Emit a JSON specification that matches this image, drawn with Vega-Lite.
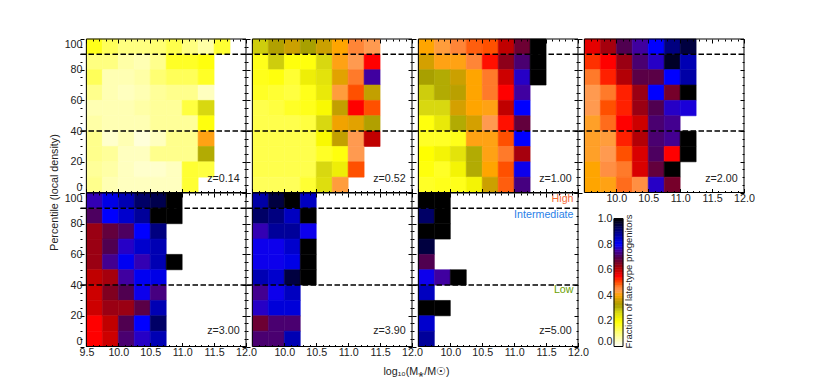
{"$schema":"https://vega.github.io/schema/vega-lite/v6.json","padding":{"left":48,"top":38,"right":0,"bottom":0},"columns":4,"spacing":0,"bounds":"flush","resolve":{"scale":{"color":"shared","stroke":"shared"}},
"config":{"view":{"stroke":null},"font":"Liberation Sans","axis":{"grid":false,"labelColor":"#222","titleColor":"#222","labelFont":"Liberation Sans","titleFont":"Liberation Sans","labelFontSize":10.7,"titleFontSize":10.7,"titleFontWeight":"normal","labelPadding":5},"axisX":{"labelFlush":false},"axisY":{"labelFlush":true,"labelPadding":2}},
"datasets":{"frame":[{"m":9.5,"n":12,"d":0,"e":100}],"dash":[{"d":40},{"d":90}],
"cells":[
{"z":0.14,"m":9.5,"n":9.75,"d":90,"e":100,"f":0.18},{"z":0.14,"m":9.75,"n":10,"d":90,"e":100,"f":0.13},{"z":0.14,"m":10,"n":10.25,"d":90,"e":100,"f":0.1},{"z":0.14,"m":10.25,"n":10.5,"d":90,"e":100,"f":0.1},{"z":0.14,"m":10.5,"n":10.75,"d":90,"e":100,"f":0.11},{"z":0.14,"m":10.75,"n":11,"d":90,"e":100,"f":0.14},{"z":0.14,"m":11,"n":11.25,"d":90,"e":100,"f":0.1},{"z":0.14,"m":11.25,"n":11.5,"d":90,"e":100,"f":0.07},{"z":0.14,"m":11.5,"n":11.75,"d":90,"e":100,"f":0.16},
{"z":0.14,"m":9.5,"n":9.75,"d":80,"e":90,"f":0.1},{"z":0.14,"m":9.75,"n":10,"d":80,"e":90,"f":0.1},{"z":0.14,"m":10,"n":10.25,"d":80,"e":90,"f":0.07},{"z":0.14,"m":10.25,"n":10.5,"d":80,"e":90,"f":0.06},{"z":0.14,"m":10.5,"n":10.75,"d":80,"e":90,"f":0.09},{"z":0.14,"m":10.75,"n":11,"d":80,"e":90,"f":0.17},{"z":0.14,"m":11,"n":11.25,"d":80,"e":90,"f":0.17},{"z":0.14,"m":11.25,"n":11.5,"d":80,"e":90,"f":0.19},
{"z":0.14,"m":9.5,"n":9.75,"d":70,"e":80,"f":0.13},{"z":0.14,"m":9.75,"n":10,"d":70,"e":80,"f":0.06},{"z":0.14,"m":10,"n":10.25,"d":70,"e":80,"f":0.06},{"z":0.14,"m":10.25,"n":10.5,"d":70,"e":80,"f":0.07},{"z":0.14,"m":10.5,"n":10.75,"d":70,"e":80,"f":0.11},{"z":0.14,"m":10.75,"n":11,"d":70,"e":80,"f":0.13},{"z":0.14,"m":11,"n":11.25,"d":70,"e":80,"f":0.13},{"z":0.14,"m":11.25,"n":11.5,"d":70,"e":80,"f":0.17},
{"z":0.14,"m":9.5,"n":9.75,"d":60,"e":70,"f":0.09},{"z":0.14,"m":9.75,"n":10,"d":60,"e":70,"f":0.06},{"z":0.14,"m":10,"n":10.25,"d":60,"e":70,"f":0.05},{"z":0.14,"m":10.25,"n":10.5,"d":60,"e":70,"f":0.06},{"z":0.14,"m":10.5,"n":10.75,"d":60,"e":70,"f":0.08},{"z":0.14,"m":10.75,"n":11,"d":60,"e":70,"f":0.09},{"z":0.14,"m":11,"n":11.25,"d":60,"e":70,"f":0.09},{"z":0.14,"m":11.25,"n":11.5,"d":60,"e":70,"f":0.05},
{"z":0.14,"m":9.5,"n":9.75,"d":50,"e":60,"f":0.06},{"z":0.14,"m":9.75,"n":10,"d":50,"e":60,"f":0.06},{"z":0.14,"m":10,"n":10.25,"d":50,"e":60,"f":0.06},{"z":0.14,"m":10.25,"n":10.5,"d":50,"e":60,"f":0.07},{"z":0.14,"m":10.5,"n":10.75,"d":50,"e":60,"f":0.08},{"z":0.14,"m":10.75,"n":11,"d":50,"e":60,"f":0.08},{"z":0.14,"m":11,"n":11.25,"d":50,"e":60,"f":0.15},{"z":0.14,"m":11.25,"n":11.5,"d":50,"e":60,"f":0.27},
{"z":0.14,"m":9.5,"n":9.75,"d":40,"e":50,"f":0.07},{"z":0.14,"m":9.75,"n":10,"d":40,"e":50,"f":0.06},{"z":0.14,"m":10,"n":10.25,"d":40,"e":50,"f":0.06},{"z":0.14,"m":10.25,"n":10.5,"d":40,"e":50,"f":0.06},{"z":0.14,"m":10.5,"n":10.75,"d":40,"e":50,"f":0.08},{"z":0.14,"m":10.75,"n":11,"d":40,"e":50,"f":0.08},{"z":0.14,"m":11,"n":11.25,"d":40,"e":50,"f":0.08},{"z":0.14,"m":11.25,"n":11.5,"d":40,"e":50,"f":0.19},
{"z":0.14,"m":9.5,"n":9.75,"d":30,"e":40,"f":0.09},{"z":0.14,"m":9.75,"n":10,"d":30,"e":40,"f":0.04},{"z":0.14,"m":10,"n":10.25,"d":30,"e":40,"f":0.06},{"z":0.14,"m":10.25,"n":10.5,"d":30,"e":40,"f":0.03},{"z":0.14,"m":10.5,"n":10.75,"d":30,"e":40,"f":0.05},{"z":0.14,"m":10.75,"n":11,"d":30,"e":40,"f":0.09},{"z":0.14,"m":11,"n":11.25,"d":30,"e":40,"f":0.09},{"z":0.14,"m":11.25,"n":11.5,"d":30,"e":40,"f":0.41},
{"z":0.14,"m":9.5,"n":9.75,"d":20,"e":30,"f":0.09},{"z":0.14,"m":9.75,"n":10,"d":20,"e":30,"f":0.08},{"z":0.14,"m":10,"n":10.25,"d":20,"e":30,"f":0.05},{"z":0.14,"m":10.25,"n":10.5,"d":20,"e":30,"f":0.05},{"z":0.14,"m":10.5,"n":10.75,"d":20,"e":30,"f":0.09},{"z":0.14,"m":10.75,"n":11,"d":20,"e":30,"f":0.09},{"z":0.14,"m":11,"n":11.25,"d":20,"e":30,"f":0.09},{"z":0.14,"m":11.25,"n":11.5,"d":20,"e":30,"f":0.31},
{"z":0.14,"m":9.5,"n":9.75,"d":10,"e":20,"f":0.08},{"z":0.14,"m":9.75,"n":10,"d":10,"e":20,"f":0.07},{"z":0.14,"m":10,"n":10.25,"d":10,"e":20,"f":0.05},{"z":0.14,"m":10.25,"n":10.5,"d":10,"e":20,"f":0.04},{"z":0.14,"m":10.5,"n":10.75,"d":10,"e":20,"f":0.04},{"z":0.14,"m":10.75,"n":11,"d":10,"e":20,"f":0.05},{"z":0.14,"m":11,"n":11.25,"d":10,"e":20,"f":0.16},{"z":0.14,"m":11.25,"n":11.5,"d":10,"e":20,"f":0.15},
{"z":0.14,"m":9.5,"n":9.75,"d":0,"e":10,"f":0.09},{"z":0.14,"m":9.75,"n":10,"d":0,"e":10,"f":0.06},{"z":0.14,"m":10,"n":10.25,"d":0,"e":10,"f":0.05},{"z":0.14,"m":10.25,"n":10.5,"d":0,"e":10,"f":0.05},{"z":0.14,"m":10.5,"n":10.75,"d":0,"e":10,"f":0.05},{"z":0.14,"m":10.75,"n":11,"d":0,"e":10,"f":0.05},{"z":0.14,"m":11,"n":11.25,"d":0,"e":10,"f":0.16},
{"z":0.52,"m":9.5,"n":9.75,"d":90,"e":100,"f":0.28},{"z":0.52,"m":9.75,"n":10,"d":90,"e":100,"f":0.33},{"z":0.52,"m":10,"n":10.25,"d":90,"e":100,"f":0.36},{"z":0.52,"m":10.25,"n":10.5,"d":90,"e":100,"f":0.32},{"z":0.52,"m":10.5,"n":10.75,"d":90,"e":100,"f":0.36},{"z":0.52,"m":10.75,"n":11,"d":90,"e":100,"f":0.4},{"z":0.52,"m":11,"n":11.25,"d":90,"e":100,"f":0.46},{"z":0.52,"m":11.25,"n":11.5,"d":90,"e":100,"f":0.44},
{"z":0.52,"m":9.5,"n":9.75,"d":80,"e":90,"f":0.18},{"z":0.52,"m":9.75,"n":10,"d":80,"e":90,"f":0.28},{"z":0.52,"m":10,"n":10.25,"d":80,"e":90,"f":0.19},{"z":0.52,"m":10.25,"n":10.5,"d":80,"e":90,"f":0.19},{"z":0.52,"m":10.5,"n":10.75,"d":80,"e":90,"f":0.27},{"z":0.52,"m":10.75,"n":11,"d":80,"e":90,"f":0.41},{"z":0.52,"m":11,"n":11.25,"d":80,"e":90,"f":0.44},{"z":0.52,"m":11.25,"n":11.5,"d":80,"e":90,"f":0.55},
{"z":0.52,"m":9.5,"n":9.75,"d":70,"e":80,"f":0.18},{"z":0.52,"m":9.75,"n":10,"d":70,"e":80,"f":0.19},{"z":0.52,"m":10,"n":10.25,"d":70,"e":80,"f":0.16},{"z":0.52,"m":10.25,"n":10.5,"d":70,"e":80,"f":0.23},{"z":0.52,"m":10.5,"n":10.75,"d":70,"e":80,"f":0.25},{"z":0.52,"m":10.75,"n":11,"d":70,"e":80,"f":0.38},{"z":0.52,"m":11,"n":11.25,"d":70,"e":80,"f":0.47},{"z":0.52,"m":11.25,"n":11.5,"d":70,"e":80,"f":0.75},
{"z":0.52,"m":9.5,"n":9.75,"d":60,"e":70,"f":0.17},{"z":0.52,"m":9.75,"n":10,"d":60,"e":70,"f":0.16},{"z":0.52,"m":10,"n":10.25,"d":60,"e":70,"f":0.15},{"z":0.52,"m":10.25,"n":10.5,"d":60,"e":70,"f":0.18},{"z":0.52,"m":10.5,"n":10.75,"d":60,"e":70,"f":0.24},{"z":0.52,"m":10.75,"n":11,"d":60,"e":70,"f":0.43},{"z":0.52,"m":11,"n":11.25,"d":60,"e":70,"f":0.5},{"z":0.52,"m":11.25,"n":11.5,"d":60,"e":70,"f":0.35},
{"z":0.52,"m":9.5,"n":9.75,"d":50,"e":60,"f":0.14},{"z":0.52,"m":9.75,"n":10,"d":50,"e":60,"f":0.15},{"z":0.52,"m":10,"n":10.25,"d":50,"e":60,"f":0.17},{"z":0.52,"m":10.25,"n":10.5,"d":50,"e":60,"f":0.18},{"z":0.52,"m":10.5,"n":10.75,"d":50,"e":60,"f":0.21},{"z":0.52,"m":10.75,"n":11,"d":50,"e":60,"f":0.35},{"z":0.52,"m":11,"n":11.25,"d":50,"e":60,"f":0.55},{"z":0.52,"m":11.25,"n":11.5,"d":50,"e":60,"f":0.5},
{"z":0.52,"m":9.5,"n":9.75,"d":40,"e":50,"f":0.14},{"z":0.52,"m":9.75,"n":10,"d":40,"e":50,"f":0.14},{"z":0.52,"m":10,"n":10.25,"d":40,"e":50,"f":0.14},{"z":0.52,"m":10.25,"n":10.5,"d":40,"e":50,"f":0.15},{"z":0.52,"m":10.5,"n":10.75,"d":40,"e":50,"f":0.27},{"z":0.52,"m":10.75,"n":11,"d":40,"e":50,"f":0.39},{"z":0.52,"m":11,"n":11.25,"d":40,"e":50,"f":0.38},{"z":0.52,"m":11.25,"n":11.5,"d":40,"e":50,"f":0.33},
{"z":0.52,"m":9.5,"n":9.75,"d":30,"e":40,"f":0.14},{"z":0.52,"m":9.75,"n":10,"d":30,"e":40,"f":0.14},{"z":0.52,"m":10,"n":10.25,"d":30,"e":40,"f":0.14},{"z":0.52,"m":10.25,"n":10.5,"d":30,"e":40,"f":0.14},{"z":0.52,"m":10.5,"n":10.75,"d":30,"e":40,"f":0.21},{"z":0.52,"m":10.75,"n":11,"d":30,"e":40,"f":0.35},{"z":0.52,"m":11,"n":11.25,"d":30,"e":40,"f":0.44},{"z":0.52,"m":11.25,"n":11.5,"d":30,"e":40,"f":0.6},
{"z":0.52,"m":9.5,"n":9.75,"d":20,"e":30,"f":0.14},{"z":0.52,"m":9.75,"n":10,"d":20,"e":30,"f":0.14},{"z":0.52,"m":10,"n":10.25,"d":20,"e":30,"f":0.14},{"z":0.52,"m":10.25,"n":10.5,"d":20,"e":30,"f":0.14},{"z":0.52,"m":10.5,"n":10.75,"d":20,"e":30,"f":0.17},{"z":0.52,"m":10.75,"n":11,"d":20,"e":30,"f":0.19},{"z":0.52,"m":11,"n":11.25,"d":20,"e":30,"f":0.44},
{"z":0.52,"m":9.5,"n":9.75,"d":10,"e":20,"f":0.14},{"z":0.52,"m":9.75,"n":10,"d":10,"e":20,"f":0.14},{"z":0.52,"m":10,"n":10.25,"d":10,"e":20,"f":0.14},{"z":0.52,"m":10.25,"n":10.5,"d":10,"e":20,"f":0.14},{"z":0.52,"m":10.5,"n":10.75,"d":10,"e":20,"f":0.27},{"z":0.52,"m":10.75,"n":11,"d":10,"e":20,"f":0.23},{"z":0.52,"m":11,"n":11.25,"d":10,"e":20,"f":0.5},
{"z":0.52,"m":9.5,"n":9.75,"d":0,"e":10,"f":0.13},{"z":0.52,"m":9.75,"n":10,"d":0,"e":10,"f":0.13},{"z":0.52,"m":10,"n":10.25,"d":0,"e":10,"f":0.13},{"z":0.52,"m":10.25,"n":10.5,"d":0,"e":10,"f":0.16},{"z":0.52,"m":10.5,"n":10.75,"d":0,"e":10,"f":0.26},{"z":0.52,"m":10.75,"n":11,"d":0,"e":10,"f":0.43},
{"z":1,"m":9.5,"n":9.75,"d":90,"e":100,"f":0.4},{"z":1,"m":9.75,"n":10,"d":90,"e":100,"f":0.43},{"z":1,"m":10,"n":10.25,"d":90,"e":100,"f":0.46},{"z":1,"m":10.25,"n":10.5,"d":90,"e":100,"f":0.49},{"z":1,"m":10.5,"n":10.75,"d":90,"e":100,"f":0.5},{"z":1,"m":10.75,"n":11,"d":90,"e":100,"f":0.6},{"z":1,"m":11,"n":11.25,"d":90,"e":100,"f":0.67},{"z":1,"m":11.25,"n":11.5,"d":90,"e":100,"f":1},
{"z":1,"m":9.5,"n":9.75,"d":80,"e":90,"f":0.37},{"z":1,"m":9.75,"n":10,"d":80,"e":90,"f":0.41},{"z":1,"m":10,"n":10.25,"d":80,"e":90,"f":0.41},{"z":1,"m":10.25,"n":10.5,"d":80,"e":90,"f":0.46},{"z":1,"m":10.5,"n":10.75,"d":80,"e":90,"f":0.54},{"z":1,"m":10.75,"n":11,"d":80,"e":90,"f":0.64},{"z":1,"m":11,"n":11.25,"d":80,"e":90,"f":0.72},{"z":1,"m":11.25,"n":11.5,"d":80,"e":90,"f":1},
{"z":1,"m":9.5,"n":9.75,"d":70,"e":80,"f":0.32},{"z":1,"m":9.75,"n":10,"d":70,"e":80,"f":0.31},{"z":1,"m":10,"n":10.25,"d":70,"e":80,"f":0.36},{"z":1,"m":10.25,"n":10.5,"d":70,"e":80,"f":0.4},{"z":1,"m":10.5,"n":10.75,"d":70,"e":80,"f":0.47},{"z":1,"m":10.75,"n":11,"d":70,"e":80,"f":0.59},{"z":1,"m":11,"n":11.25,"d":70,"e":80,"f":0.77},{"z":1,"m":11.25,"n":11.5,"d":70,"e":80,"f":1},
{"z":1,"m":9.5,"n":9.75,"d":60,"e":70,"f":0.28},{"z":1,"m":9.75,"n":10,"d":60,"e":70,"f":0.31},{"z":1,"m":10,"n":10.25,"d":60,"e":70,"f":0.34},{"z":1,"m":10.25,"n":10.5,"d":60,"e":70,"f":0.4},{"z":1,"m":10.5,"n":10.75,"d":60,"e":70,"f":0.47},{"z":1,"m":10.75,"n":11,"d":60,"e":70,"f":0.55},{"z":1,"m":11,"n":11.25,"d":60,"e":70,"f":0.75},
{"z":1,"m":9.5,"n":9.75,"d":50,"e":60,"f":0.27},{"z":1,"m":9.75,"n":10,"d":50,"e":60,"f":0.27},{"z":1,"m":10,"n":10.25,"d":50,"e":60,"f":0.37},{"z":1,"m":10.25,"n":10.5,"d":50,"e":60,"f":0.4},{"z":1,"m":10.5,"n":10.75,"d":50,"e":60,"f":0.41},{"z":1,"m":10.75,"n":11,"d":50,"e":60,"f":0.6},{"z":1,"m":11,"n":11.25,"d":50,"e":60,"f":0.8},
{"z":1,"m":9.5,"n":9.75,"d":40,"e":50,"f":0.19},{"z":1,"m":9.75,"n":10,"d":40,"e":50,"f":0.24},{"z":1,"m":10,"n":10.25,"d":40,"e":50,"f":0.31},{"z":1,"m":10.25,"n":10.5,"d":40,"e":50,"f":0.37},{"z":1,"m":10.5,"n":10.75,"d":40,"e":50,"f":0.44},{"z":1,"m":10.75,"n":11,"d":40,"e":50,"f":0.54},{"z":1,"m":11,"n":11.25,"d":40,"e":50,"f":0.68},
{"z":1,"m":9.5,"n":9.75,"d":30,"e":40,"f":0.17},{"z":1,"m":9.75,"n":10,"d":30,"e":40,"f":0.17},{"z":1,"m":10,"n":10.25,"d":30,"e":40,"f":0.18},{"z":1,"m":10.25,"n":10.5,"d":30,"e":40,"f":0.41},{"z":1,"m":10.5,"n":10.75,"d":30,"e":40,"f":0.41},{"z":1,"m":10.75,"n":11,"d":30,"e":40,"f":0.5},{"z":1,"m":11,"n":11.25,"d":30,"e":40,"f":0.8},
{"z":1,"m":9.5,"n":9.75,"d":20,"e":30,"f":0.2},{"z":1,"m":9.75,"n":10,"d":20,"e":30,"f":0.22},{"z":1,"m":10,"n":10.25,"d":20,"e":30,"f":0.25},{"z":1,"m":10.25,"n":10.5,"d":20,"e":30,"f":0.31},{"z":1,"m":10.5,"n":10.75,"d":20,"e":30,"f":0.41},{"z":1,"m":10.75,"n":11,"d":20,"e":30,"f":0.47},{"z":1,"m":11,"n":11.25,"d":20,"e":30,"f":0.62},
{"z":1,"m":9.5,"n":9.75,"d":10,"e":20,"f":0.19},{"z":1,"m":9.75,"n":10,"d":10,"e":20,"f":0.17},{"z":1,"m":10,"n":10.25,"d":10,"e":20,"f":0.22},{"z":1,"m":10.25,"n":10.5,"d":10,"e":20,"f":0.31},{"z":1,"m":10.5,"n":10.75,"d":10,"e":20,"f":0.4},{"z":1,"m":10.75,"n":11,"d":10,"e":20,"f":0.5},{"z":1,"m":11,"n":11.25,"d":10,"e":20,"f":0.79},
{"z":1,"m":9.5,"n":9.75,"d":0,"e":10,"f":0.17},{"z":1,"m":9.75,"n":10,"d":0,"e":10,"f":0.18},{"z":1,"m":10,"n":10.25,"d":0,"e":10,"f":0.18},{"z":1,"m":10.25,"n":10.5,"d":0,"e":10,"f":0.22},{"z":1,"m":10.5,"n":10.75,"d":0,"e":10,"f":0.36},{"z":1,"m":10.75,"n":11,"d":0,"e":10,"f":0.49},{"z":1,"m":11,"n":11.25,"d":0,"e":10,"f":0.73},
{"z":2,"m":9.5,"n":9.75,"d":90,"e":100,"f":0.57},{"z":2,"m":9.75,"n":10,"d":90,"e":100,"f":0.62},{"z":2,"m":10,"n":10.25,"d":90,"e":100,"f":0.7},{"z":2,"m":10.25,"n":10.5,"d":90,"e":100,"f":0.75},{"z":2,"m":10.5,"n":10.75,"d":90,"e":100,"f":0.8},{"z":2,"m":10.75,"n":11,"d":90,"e":100,"f":0.9},{"z":2,"m":11,"n":11.25,"d":90,"e":100,"f":0.95},
{"z":2,"m":9.5,"n":9.75,"d":80,"e":90,"f":0.52},{"z":2,"m":9.75,"n":10,"d":80,"e":90,"f":0.55},{"z":2,"m":10,"n":10.25,"d":80,"e":90,"f":0.63},{"z":2,"m":10.25,"n":10.5,"d":80,"e":90,"f":0.72},{"z":2,"m":10.5,"n":10.75,"d":80,"e":90,"f":0.77},{"z":2,"m":10.75,"n":11,"d":80,"e":90,"f":0.97},{"z":2,"m":11,"n":11.25,"d":80,"e":90,"f":0.86},
{"z":2,"m":9.5,"n":9.75,"d":70,"e":80,"f":0.47},{"z":2,"m":9.75,"n":10,"d":70,"e":80,"f":0.53},{"z":2,"m":10,"n":10.25,"d":70,"e":80,"f":0.61},{"z":2,"m":10.25,"n":10.5,"d":70,"e":80,"f":0.69},{"z":2,"m":10.5,"n":10.75,"d":70,"e":80,"f":0.69},{"z":2,"m":10.75,"n":11,"d":70,"e":80,"f":0.8},{"z":2,"m":11,"n":11.25,"d":70,"e":80,"f":0.87},
{"z":2,"m":9.5,"n":9.75,"d":60,"e":70,"f":0.44},{"z":2,"m":9.75,"n":10,"d":60,"e":70,"f":0.47},{"z":2,"m":10,"n":10.25,"d":60,"e":70,"f":0.53},{"z":2,"m":10.25,"n":10.5,"d":60,"e":70,"f":0.63},{"z":2,"m":10.5,"n":10.75,"d":60,"e":70,"f":0.8},{"z":2,"m":10.75,"n":11,"d":60,"e":70,"f":0.66},{"z":2,"m":11,"n":11.25,"d":60,"e":70,"f":1},
{"z":2,"m":9.5,"n":9.75,"d":50,"e":60,"f":0.44},{"z":2,"m":9.75,"n":10,"d":50,"e":60,"f":0.5},{"z":2,"m":10,"n":10.25,"d":50,"e":60,"f":0.53},{"z":2,"m":10.25,"n":10.5,"d":50,"e":60,"f":0.63},{"z":2,"m":10.5,"n":10.75,"d":50,"e":60,"f":0.7},{"z":2,"m":10.75,"n":11,"d":50,"e":60,"f":0.77},{"z":2,"m":11,"n":11.25,"d":50,"e":60,"f":0.78},
{"z":2,"m":9.5,"n":9.75,"d":40,"e":50,"f":0.42},{"z":2,"m":9.75,"n":10,"d":40,"e":50,"f":0.48},{"z":2,"m":10,"n":10.25,"d":40,"e":50,"f":0.55},{"z":2,"m":10.25,"n":10.5,"d":40,"e":50,"f":0.59},{"z":2,"m":10.5,"n":10.75,"d":40,"e":50,"f":0.72},{"z":2,"m":10.75,"n":11,"d":40,"e":50,"f":0.74},
{"z":2,"m":9.5,"n":9.75,"d":30,"e":40,"f":0.42},{"z":2,"m":9.75,"n":10,"d":30,"e":40,"f":0.43},{"z":2,"m":10,"n":10.25,"d":30,"e":40,"f":0.53},{"z":2,"m":10.25,"n":10.5,"d":30,"e":40,"f":0.61},{"z":2,"m":10.5,"n":10.75,"d":30,"e":40,"f":0.72},{"z":2,"m":10.75,"n":11,"d":30,"e":40,"f":0.74},{"z":2,"m":11,"n":11.25,"d":30,"e":40,"f":1},
{"z":2,"m":9.5,"n":9.75,"d":20,"e":30,"f":0.42},{"z":2,"m":9.75,"n":10,"d":20,"e":30,"f":0.44},{"z":2,"m":10,"n":10.25,"d":20,"e":30,"f":0.5},{"z":2,"m":10.25,"n":10.5,"d":20,"e":30,"f":0.58},{"z":2,"m":10.5,"n":10.75,"d":20,"e":30,"f":0.71},{"z":2,"m":10.75,"n":11,"d":20,"e":30,"f":0.55},{"z":2,"m":11,"n":11.25,"d":20,"e":30,"f":1},
{"z":2,"m":9.5,"n":9.75,"d":10,"e":20,"f":0.4},{"z":2,"m":9.75,"n":10,"d":10,"e":20,"f":0.45},{"z":2,"m":10,"n":10.25,"d":10,"e":20,"f":0.47},{"z":2,"m":10.25,"n":10.5,"d":10,"e":20,"f":0.58},{"z":2,"m":10.5,"n":10.75,"d":10,"e":20,"f":0.68},{"z":2,"m":10.75,"n":11,"d":10,"e":20,"f":1},
{"z":2,"m":9.5,"n":9.75,"d":0,"e":10,"f":0.4},{"z":2,"m":9.75,"n":10,"d":0,"e":10,"f":0.41},{"z":2,"m":10,"n":10.25,"d":0,"e":10,"f":0.48},{"z":2,"m":10.25,"n":10.5,"d":0,"e":10,"f":0.45},{"z":2,"m":10.5,"n":10.75,"d":0,"e":10,"f":0.77},{"z":2,"m":10.75,"n":11,"d":0,"e":10,"f":0.66},
{"z":3,"m":9.5,"n":9.75,"d":90,"e":100,"f":0.76},{"z":3,"m":9.75,"n":10,"d":90,"e":100,"f":0.82},{"z":3,"m":10,"n":10.25,"d":90,"e":100,"f":0.86},{"z":3,"m":10.25,"n":10.5,"d":90,"e":100,"f":0.92},{"z":3,"m":10.5,"n":10.75,"d":90,"e":100,"f":0.94},{"z":3,"m":10.75,"n":11,"d":90,"e":100,"f":1},
{"z":3,"m":9.5,"n":9.75,"d":80,"e":90,"f":0.71},{"z":3,"m":9.75,"n":10,"d":80,"e":90,"f":0.8},{"z":3,"m":10,"n":10.25,"d":80,"e":90,"f":0.84},{"z":3,"m":10.25,"n":10.5,"d":80,"e":90,"f":0.88},{"z":3,"m":10.5,"n":10.75,"d":80,"e":90,"f":1},{"z":3,"m":10.75,"n":11,"d":80,"e":90,"f":1},
{"z":3,"m":9.5,"n":9.75,"d":70,"e":80,"f":0.63},{"z":3,"m":9.75,"n":10,"d":70,"e":80,"f":0.68},{"z":3,"m":10,"n":10.25,"d":70,"e":80,"f":0.71},{"z":3,"m":10.25,"n":10.5,"d":70,"e":80,"f":0.8},{"z":3,"m":10.5,"n":10.75,"d":70,"e":80,"f":0.9},
{"z":3,"m":9.5,"n":9.75,"d":60,"e":70,"f":0.63},{"z":3,"m":9.75,"n":10,"d":60,"e":70,"f":0.7},{"z":3,"m":10,"n":10.25,"d":60,"e":70,"f":0.77},{"z":3,"m":10.25,"n":10.5,"d":60,"e":70,"f":0.84},{"z":3,"m":10.5,"n":10.75,"d":60,"e":70,"f":0.86},
{"z":3,"m":9.5,"n":9.75,"d":50,"e":60,"f":0.63},{"z":3,"m":9.75,"n":10,"d":50,"e":60,"f":0.74},{"z":3,"m":10,"n":10.25,"d":50,"e":60,"f":0.81},{"z":3,"m":10.25,"n":10.5,"d":50,"e":60,"f":0.76},{"z":3,"m":10.5,"n":10.75,"d":50,"e":60,"f":0.86},{"z":3,"m":10.75,"n":11,"d":50,"e":60,"f":1},
{"z":3,"m":9.5,"n":9.75,"d":40,"e":50,"f":0.6},{"z":3,"m":9.75,"n":10,"d":40,"e":50,"f":0.62},{"z":3,"m":10,"n":10.25,"d":40,"e":50,"f":0.75},{"z":3,"m":10.25,"n":10.5,"d":40,"e":50,"f":0.81},{"z":3,"m":10.5,"n":10.75,"d":40,"e":50,"f":0.82},
{"z":3,"m":9.5,"n":9.75,"d":30,"e":40,"f":0.59},{"z":3,"m":9.75,"n":10,"d":30,"e":40,"f":0.65},{"z":3,"m":10,"n":10.25,"d":30,"e":40,"f":0.7},{"z":3,"m":10.25,"n":10.5,"d":30,"e":40,"f":0.79},{"z":3,"m":10.5,"n":10.75,"d":30,"e":40,"f":0.73},
{"z":3,"m":9.5,"n":9.75,"d":20,"e":30,"f":0.59},{"z":3,"m":9.75,"n":10,"d":20,"e":30,"f":0.63},{"z":3,"m":10,"n":10.25,"d":20,"e":30,"f":0.63},{"z":3,"m":10.25,"n":10.5,"d":20,"e":30,"f":0.69},{"z":3,"m":10.5,"n":10.75,"d":20,"e":30,"f":0.86},
{"z":3,"m":9.5,"n":9.75,"d":10,"e":20,"f":0.55},{"z":3,"m":9.75,"n":10,"d":10,"e":20,"f":0.6},{"z":3,"m":10,"n":10.25,"d":10,"e":20,"f":0.7},{"z":3,"m":10.25,"n":10.5,"d":10,"e":20,"f":0.8},{"z":3,"m":10.5,"n":10.75,"d":10,"e":20,"f":0.92},
{"z":3,"m":9.5,"n":9.75,"d":0,"e":10,"f":0.55},{"z":3,"m":9.75,"n":10,"d":0,"e":10,"f":0.59},{"z":3,"m":10,"n":10.25,"d":0,"e":10,"f":0.72},{"z":3,"m":10.25,"n":10.5,"d":0,"e":10,"f":0.77},{"z":3,"m":10.5,"n":10.75,"d":0,"e":10,"f":0.86},
{"z":3.9,"m":9.5,"n":9.75,"d":90,"e":100,"f":0.87},{"z":3.9,"m":9.75,"n":10,"d":90,"e":100,"f":0.95},{"z":3.9,"m":10,"n":10.25,"d":90,"e":100,"f":1},{"z":3.9,"m":10.25,"n":10.5,"d":90,"e":100,"f":0.85},
{"z":3.9,"m":9.5,"n":9.75,"d":80,"e":90,"f":0.92},{"z":3.9,"m":9.75,"n":10,"d":80,"e":90,"f":0.9},{"z":3.9,"m":10,"n":10.25,"d":80,"e":90,"f":0.85},{"z":3.9,"m":10.25,"n":10.5,"d":80,"e":90,"f":1},
{"z":3.9,"m":9.5,"n":9.75,"d":70,"e":80,"f":0.76},{"z":3.9,"m":9.75,"n":10,"d":70,"e":80,"f":0.88},{"z":3.9,"m":10,"n":10.25,"d":70,"e":80,"f":0.88},{"z":3.9,"m":10.25,"n":10.5,"d":70,"e":80,"f":0.79},
{"z":3.9,"m":9.5,"n":9.75,"d":60,"e":70,"f":0.79},{"z":3.9,"m":9.75,"n":10,"d":60,"e":70,"f":0.79},{"z":3.9,"m":10,"n":10.25,"d":60,"e":70,"f":0.84},{"z":3.9,"m":10.25,"n":10.5,"d":60,"e":70,"f":1},
{"z":3.9,"m":9.5,"n":9.75,"d":50,"e":60,"f":0.79},{"z":3.9,"m":9.75,"n":10,"d":50,"e":60,"f":0.79},{"z":3.9,"m":10,"n":10.25,"d":50,"e":60,"f":0.82},{"z":3.9,"m":10.25,"n":10.5,"d":50,"e":60,"f":1},
{"z":3.9,"m":9.5,"n":9.75,"d":40,"e":50,"f":0.86},{"z":3.9,"m":9.75,"n":10,"d":40,"e":50,"f":0.84},{"z":3.9,"m":10,"n":10.25,"d":40,"e":50,"f":0.95},{"z":3.9,"m":10.25,"n":10.5,"d":40,"e":50,"f":1},
{"z":3.9,"m":9.5,"n":9.75,"d":30,"e":40,"f":0.74},{"z":3.9,"m":9.75,"n":10,"d":30,"e":40,"f":0.79},{"z":3.9,"m":10,"n":10.25,"d":30,"e":40,"f":0.85},
{"z":3.9,"m":9.5,"n":9.75,"d":20,"e":30,"f":0.77},{"z":3.9,"m":9.75,"n":10,"d":20,"e":30,"f":0.83},{"z":3.9,"m":10,"n":10.25,"d":20,"e":30,"f":0.83},
{"z":3.9,"m":9.5,"n":9.75,"d":10,"e":20,"f":0.67},{"z":3.9,"m":9.75,"n":10,"d":10,"e":20,"f":0.72},{"z":3.9,"m":10,"n":10.25,"d":10,"e":20,"f":0.72},
{"z":3.9,"m":9.5,"n":9.75,"d":0,"e":10,"f":0.72},{"z":3.9,"m":9.75,"n":10,"d":0,"e":10,"f":0.72},{"z":3.9,"m":10,"n":10.25,"d":0,"e":10,"f":0.86},
{"z":5,"m":9.5,"n":9.75,"d":90,"e":100,"f":1},{"z":5,"m":9.75,"n":10,"d":90,"e":100,"f":1},
{"z":5,"m":9.5,"n":9.75,"d":80,"e":90,"f":0.92},{"z":5,"m":9.75,"n":10,"d":80,"e":90,"f":1},
{"z":5,"m":9.5,"n":9.75,"d":70,"e":80,"f":1},{"z":5,"m":9.75,"n":10,"d":70,"e":80,"f":1},
{"z":5,"m":9.5,"n":9.75,"d":60,"e":70,"f":0.95},
{"z":5,"m":9.5,"n":9.75,"d":50,"e":60,"f":0.7},
{"z":5,"m":9.5,"n":9.75,"d":40,"e":50,"f":0.79},{"z":5,"m":9.75,"n":10,"d":40,"e":50,"f":0.75},{"z":5,"m":10,"n":10.25,"d":40,"e":50,"f":1},
{"z":5,"m":9.5,"n":9.75,"d":30,"e":40,"f":0.85},
{"z":5,"m":9.5,"n":9.75,"d":20,"e":30,"f":1},{"z":5,"m":9.75,"n":10,"d":20,"e":30,"f":1},
{"z":5,"m":9.5,"n":9.75,"d":10,"e":20,"f":0.84},
{"z":5,"m":9.5,"n":9.75,"d":0,"e":10,"f":0.88}
],
"bar":[{"f":0.01,"v":0,"v2":0.02},{"f":0.03,"v":0.02,"v2":0.04},{"f":0.05,"v":0.04,"v2":0.06},{"f":0.07,"v":0.06,"v2":0.08},{"f":0.09,"v":0.08,"v2":0.1},{"f":0.11,"v":0.1,"v2":0.12},{"f":0.13,"v":0.12,"v2":0.14},{"f":0.15,"v":0.14,"v2":0.16},{"f":0.17,"v":0.16,"v2":0.18},{"f":0.19,"v":0.18,"v2":0.2},{"f":0.21,"v":0.2,"v2":0.22},{"f":0.23,"v":0.22,"v2":0.24},{"f":0.25,"v":0.24,"v2":0.26},{"f":0.27,"v":0.26,"v2":0.28},{"f":0.29,"v":0.28,"v2":0.3},{"f":0.31,"v":0.3,"v2":0.32},{"f":0.33,"v":0.32,"v2":0.34},{"f":0.35,"v":0.34,"v2":0.36},{"f":0.37,"v":0.36,"v2":0.38},{"f":0.39,"v":0.38,"v2":0.4},{"f":0.41,"v":0.4,"v2":0.42},{"f":0.43,"v":0.42,"v2":0.44},{"f":0.45,"v":0.44,"v2":0.46},{"f":0.47,"v":0.46,"v2":0.48},{"f":0.49,"v":0.48,"v2":0.5},{"f":0.51,"v":0.5,"v2":0.52},{"f":0.53,"v":0.52,"v2":0.54},{"f":0.55,"v":0.54,"v2":0.56},{"f":0.57,"v":0.56,"v2":0.58},{"f":0.59,"v":0.58,"v2":0.6},{"f":0.61,"v":0.6,"v2":0.62},{"f":0.63,"v":0.62,"v2":0.64},{"f":0.65,"v":0.64,"v2":0.66},{"f":0.67,"v":0.66,"v2":0.68},{"f":0.69,"v":0.68,"v2":0.7},{"f":0.71,"v":0.7,"v2":0.72},{"f":0.73,"v":0.72,"v2":0.74},{"f":0.75,"v":0.74,"v2":0.76},{"f":0.77,"v":0.76,"v2":0.78},{"f":0.79,"v":0.78,"v2":0.8},{"f":0.81,"v":0.8,"v2":0.82},{"f":0.83,"v":0.82,"v2":0.84},{"f":0.85,"v":0.84,"v2":0.86},{"f":0.87,"v":0.86,"v2":0.88},{"f":0.89,"v":0.88,"v2":0.9},{"f":0.91,"v":0.9,"v2":0.92},{"f":0.93,"v":0.92,"v2":0.94},{"f":0.95,"v":0.94,"v2":0.96},{"f":0.97,"v":0.96,"v2":0.98},{"f":0.99,"v":0.98,"v2":1}]
},
"concat":[
{"width":166,"height":153.5,"resolve":{"axis":{"x":"independent","y":"independent"}},"layer":[
{"data":{"name":"cells"},"transform":[{"filter":"datum.z==0.14"}],"mark":{"type":"rect","strokeWidth":0.6},"encoding":{"x":{"field":"m","type":"quantitative","scale":{"domain":[9.5,12]},"axis":{"orient":"bottom","domain":false,"labels":false,"tickColor":"#000","tickSize":-4,"values":[9.5,10,10.5,11,11.5,12],"title":null,"zindex":1}},"x2":{"field":"n"},"y":{"field":"d","type":"quantitative","scale":{"domain":[0,100]},"axis":{"orient":"left","domain":false,"labels":true,"tickColor":"#000","tickSize":-4,"values":[0,20,40,60,80,100],"title":"Percentile (local density)","titleX":-21,"titleY":153,"zindex":1}},"y2":{"field":"e"},"color":{"field":"f","type":"quantitative","legend":null,"scale":{"domain":[0,0.2,0.27,0.32,0.37,0.4,0.44,0.47,0.5,0.55,0.6,0.65,0.7,0.75,0.8,0.85,0.9,0.95,1],"range":["#ffffff","#ffff00","#d8d810","#a8a000","#d4a000","#ffa500","#ff9a50","#ff7a2a","#ff5000","#ff0000","#c00000","#800020","#500050","#4000a0","#0000ff","#0000c0","#000080","#000040","#000000"],"interpolate":"rgb"}},"stroke":{"field":"f","type":"quantitative","legend":null,"scale":{"domain":[0,0.2,0.27,0.32,0.37,0.4,0.44,0.47,0.5,0.55,0.6,0.65,0.7,0.75,0.8,0.85,0.9,0.95,1],"range":["#ffffff","#ffff00","#d8d810","#a8a000","#d4a000","#ffa500","#ff9a50","#ff7a2a","#ff5000","#ff0000","#c00000","#800020","#500050","#4000a0","#0000ff","#0000c0","#000080","#000040","#000000"],"interpolate":"rgb"}}}},
{"data":{"name":"frame"},"mark":{"type":"rect","fill":null,"stroke":"#000","strokeWidth":1},"encoding":{"x":{"field":"m","type":"quantitative","axis":{"orient":"top","domain":false,"labels":false,"tickColor":"#000","tickSize":-4,"values":[9.5,10,10.5,11,11.5,12],"title":null,"zindex":1}},"x2":{"field":"n"},"y":{"field":"d","type":"quantitative","axis":{"orient":"right","domain":false,"labels":false,"tickColor":"#000","tickSize":-4,"values":[0,20,40,60,80,100],"title":null,"zindex":1}},"y2":{"field":"e"}}},
{"data":{"name":"frame"},"mark":{"type":"rect","fill":null},"encoding":{"x":{"field":"m","type":"quantitative","axis":{"orient":"bottom","domain":false,"labels":false,"tickColor":"#000","tickSize":-2,"values":[9.6,9.7,9.8,9.9,10.1,10.2,10.3,10.4,10.6,10.7,10.8,10.9,11.1,11.2,11.3,11.4,11.6,11.7,11.8,11.9],"title":null,"zindex":1}},"x2":{"field":"n"},"y":{"field":"d","type":"quantitative","axis":{"orient":"left","domain":false,"labels":false,"tickColor":"#000","tickSize":-2,"values":[5,10,15,25,30,35,45,50,55,65,70,75,85,90,95],"title":null,"zindex":1}},"y2":{"field":"e"}}},
{"data":{"name":"frame"},"mark":{"type":"rect","fill":null},"encoding":{"x":{"field":"m","type":"quantitative","axis":{"orient":"top","domain":false,"labels":false,"tickColor":"#000","tickSize":-2,"values":[9.6,9.7,9.8,9.9,10.1,10.2,10.3,10.4,10.6,10.7,10.8,10.9,11.1,11.2,11.3,11.4,11.6,11.7,11.8,11.9],"title":null,"zindex":1}},"x2":{"field":"n"},"y":{"field":"d","type":"quantitative","axis":{"orient":"right","domain":false,"labels":false,"tickColor":"#000","tickSize":-2,"values":[5,10,15,25,30,35,45,50,55,65,70,75,85,90,95],"title":null,"zindex":1}},"y2":{"field":"e"}}},
{"data":{"name":"dash"},"mark":{"type":"rule","color":"#000","strokeWidth":1.5,"strokeDash":[5.5,2.5]},"encoding":{"y":{"field":"d","type":"quantitative","axis":null}}},
{"data":{"values":[{"t":"z=0.14","m":11.9,"d":9}]},"mark":{"type":"text","align":"right","fontSize":10.7,"color":"#222"},"encoding":{"x":{"field":"m","type":"quantitative","axis":null},"y":{"field":"d","type":"quantitative","axis":null},"text":{"field":"t"}}}
]},
{"width":166,"height":153.5,"resolve":{"axis":{"x":"independent","y":"independent"}},"layer":[
{"data":{"name":"cells"},"transform":[{"filter":"datum.z==0.52"}],"mark":{"type":"rect","strokeWidth":0.6},"encoding":{"x":{"field":"m","type":"quantitative","scale":{"domain":[9.5,12]},"axis":{"orient":"bottom","domain":false,"labels":false,"tickColor":"#000","tickSize":-4,"values":[9.5,10,10.5,11,11.5,12],"title":null,"zindex":1}},"x2":{"field":"n"},"y":{"field":"d","type":"quantitative","scale":{"domain":[0,100]},"axis":{"orient":"left","domain":false,"labels":false,"tickColor":"#000","tickSize":-4,"values":[0,20,40,60,80,100],"title":null,"zindex":1}},"y2":{"field":"e"},"color":{"field":"f","type":"quantitative","legend":null},"stroke":{"field":"f","type":"quantitative","legend":null}}},
{"data":{"name":"frame"},"mark":{"type":"rect","fill":null,"stroke":"#000","strokeWidth":1},"encoding":{"x":{"field":"m","type":"quantitative","axis":{"orient":"top","domain":false,"labels":false,"tickColor":"#000","tickSize":-4,"values":[9.5,10,10.5,11,11.5,12],"title":null,"zindex":1}},"x2":{"field":"n"},"y":{"field":"d","type":"quantitative","axis":{"orient":"right","domain":false,"labels":false,"tickColor":"#000","tickSize":-4,"values":[0,20,40,60,80,100],"title":null,"zindex":1}},"y2":{"field":"e"}}},
{"data":{"name":"frame"},"mark":{"type":"rect","fill":null},"encoding":{"x":{"field":"m","type":"quantitative","axis":{"orient":"bottom","domain":false,"labels":false,"tickColor":"#000","tickSize":-2,"values":[9.6,9.7,9.8,9.9,10.1,10.2,10.3,10.4,10.6,10.7,10.8,10.9,11.1,11.2,11.3,11.4,11.6,11.7,11.8,11.9],"title":null,"zindex":1}},"x2":{"field":"n"},"y":{"field":"d","type":"quantitative","axis":{"orient":"left","domain":false,"labels":false,"tickColor":"#000","tickSize":-2,"values":[5,10,15,25,30,35,45,50,55,65,70,75,85,90,95],"title":null,"zindex":1}},"y2":{"field":"e"}}},
{"data":{"name":"frame"},"mark":{"type":"rect","fill":null},"encoding":{"x":{"field":"m","type":"quantitative","axis":{"orient":"top","domain":false,"labels":false,"tickColor":"#000","tickSize":-2,"values":[9.6,9.7,9.8,9.9,10.1,10.2,10.3,10.4,10.6,10.7,10.8,10.9,11.1,11.2,11.3,11.4,11.6,11.7,11.8,11.9],"title":null,"zindex":1}},"x2":{"field":"n"},"y":{"field":"d","type":"quantitative","axis":{"orient":"right","domain":false,"labels":false,"tickColor":"#000","tickSize":-2,"values":[5,10,15,25,30,35,45,50,55,65,70,75,85,90,95],"title":null,"zindex":1}},"y2":{"field":"e"}}},
{"data":{"name":"dash"},"mark":{"type":"rule","color":"#000","strokeWidth":1.5,"strokeDash":[5.5,2.5]},"encoding":{"y":{"field":"d","type":"quantitative","axis":null}}},
{"data":{"values":[{"t":"z=0.52","m":11.9,"d":9}]},"mark":{"type":"text","align":"right","fontSize":10.7,"color":"#222"},"encoding":{"x":{"field":"m","type":"quantitative","axis":null},"y":{"field":"d","type":"quantitative","axis":null},"text":{"field":"t"}}}
]},
{"width":166,"height":153.5,"resolve":{"axis":{"x":"independent","y":"independent"}},"layer":[
{"data":{"name":"cells"},"transform":[{"filter":"datum.z==1"}],"mark":{"type":"rect","strokeWidth":0.6},"encoding":{"x":{"field":"m","type":"quantitative","scale":{"domain":[9.5,12]},"axis":{"orient":"bottom","domain":false,"labels":false,"tickColor":"#000","tickSize":-4,"values":[9.5,10,10.5,11,11.5,12],"title":null,"zindex":1}},"x2":{"field":"n"},"y":{"field":"d","type":"quantitative","scale":{"domain":[0,100]},"axis":{"orient":"left","domain":false,"labels":false,"tickColor":"#000","tickSize":-4,"values":[0,20,40,60,80,100],"title":null,"zindex":1}},"y2":{"field":"e"},"color":{"field":"f","type":"quantitative","legend":null},"stroke":{"field":"f","type":"quantitative","legend":null}}},
{"data":{"name":"frame"},"mark":{"type":"rect","fill":null,"stroke":"#000","strokeWidth":1},"encoding":{"x":{"field":"m","type":"quantitative","axis":{"orient":"top","domain":false,"labels":false,"tickColor":"#000","tickSize":-4,"values":[9.5,10,10.5,11,11.5,12],"title":null,"zindex":1}},"x2":{"field":"n"},"y":{"field":"d","type":"quantitative","axis":{"orient":"right","domain":false,"labels":false,"tickColor":"#000","tickSize":-4,"values":[0,20,40,60,80,100],"title":null,"zindex":1}},"y2":{"field":"e"}}},
{"data":{"name":"frame"},"mark":{"type":"rect","fill":null},"encoding":{"x":{"field":"m","type":"quantitative","axis":{"orient":"bottom","domain":false,"labels":false,"tickColor":"#000","tickSize":-2,"values":[9.6,9.7,9.8,9.9,10.1,10.2,10.3,10.4,10.6,10.7,10.8,10.9,11.1,11.2,11.3,11.4,11.6,11.7,11.8,11.9],"title":null,"zindex":1}},"x2":{"field":"n"},"y":{"field":"d","type":"quantitative","axis":{"orient":"left","domain":false,"labels":false,"tickColor":"#000","tickSize":-2,"values":[5,10,15,25,30,35,45,50,55,65,70,75,85,90,95],"title":null,"zindex":1}},"y2":{"field":"e"}}},
{"data":{"name":"frame"},"mark":{"type":"rect","fill":null},"encoding":{"x":{"field":"m","type":"quantitative","axis":{"orient":"top","domain":false,"labels":false,"tickColor":"#000","tickSize":-2,"values":[9.6,9.7,9.8,9.9,10.1,10.2,10.3,10.4,10.6,10.7,10.8,10.9,11.1,11.2,11.3,11.4,11.6,11.7,11.8,11.9],"title":null,"zindex":1}},"x2":{"field":"n"},"y":{"field":"d","type":"quantitative","axis":{"orient":"right","domain":false,"labels":false,"tickColor":"#000","tickSize":-2,"values":[5,10,15,25,30,35,45,50,55,65,70,75,85,90,95],"title":null,"zindex":1}},"y2":{"field":"e"}}},
{"data":{"name":"dash"},"mark":{"type":"rule","color":"#000","strokeWidth":1.5,"strokeDash":[5.5,2.5]},"encoding":{"y":{"field":"d","type":"quantitative","axis":null}}},
{"data":{"values":[{"t":"z=1.00","m":11.9,"d":9}]},"mark":{"type":"text","align":"right","fontSize":10.7,"color":"#222"},"encoding":{"x":{"field":"m","type":"quantitative","axis":null},"y":{"field":"d","type":"quantitative","axis":null},"text":{"field":"t"}}}
]},
{"width":166,"height":153.5,"resolve":{"axis":{"x":"independent","y":"independent"}},"layer":[
{"data":{"name":"cells"},"transform":[{"filter":"datum.z==2"}],"mark":{"type":"rect","strokeWidth":0.6},"encoding":{"x":{"field":"m","type":"quantitative","scale":{"domain":[9.5,12]},"axis":{"orient":"bottom","domain":false,"labels":true,"format":".1f","tickColor":"#000","tickSize":-4,"values":[10,10.5,11,11.5,12],"title":null,"zindex":1}},"x2":{"field":"n"},"y":{"field":"d","type":"quantitative","scale":{"domain":[0,100]},"axis":{"orient":"left","domain":false,"labels":false,"tickColor":"#000","tickSize":-4,"values":[0,20,40,60,80,100],"title":null,"zindex":1}},"y2":{"field":"e"},"color":{"field":"f","type":"quantitative","legend":null},"stroke":{"field":"f","type":"quantitative","legend":null}}},
{"data":{"name":"frame"},"mark":{"type":"rect","fill":null,"stroke":"#000","strokeWidth":1},"encoding":{"x":{"field":"m","type":"quantitative","axis":{"orient":"top","domain":false,"labels":false,"tickColor":"#000","tickSize":-4,"values":[9.5,10,10.5,11,11.5,12],"title":null,"zindex":1}},"x2":{"field":"n"},"y":{"field":"d","type":"quantitative","axis":{"orient":"right","domain":false,"labels":false,"tickColor":"#000","tickSize":-4,"values":[0,20,40,60,80,100],"title":null,"zindex":1}},"y2":{"field":"e"}}},
{"data":{"name":"frame"},"mark":{"type":"rect","fill":null},"encoding":{"x":{"field":"m","type":"quantitative","axis":{"orient":"bottom","domain":false,"labels":false,"tickColor":"#000","tickSize":-2,"values":[9.6,9.7,9.8,9.9,10.1,10.2,10.3,10.4,10.6,10.7,10.8,10.9,11.1,11.2,11.3,11.4,11.6,11.7,11.8,11.9],"title":null,"zindex":1}},"x2":{"field":"n"},"y":{"field":"d","type":"quantitative","axis":{"orient":"left","domain":false,"labels":false,"tickColor":"#000","tickSize":-2,"values":[5,10,15,25,30,35,45,50,55,65,70,75,85,90,95],"title":null,"zindex":1}},"y2":{"field":"e"}}},
{"data":{"name":"frame"},"mark":{"type":"rect","fill":null},"encoding":{"x":{"field":"m","type":"quantitative","axis":{"orient":"top","domain":false,"labels":false,"tickColor":"#000","tickSize":-2,"values":[9.6,9.7,9.8,9.9,10.1,10.2,10.3,10.4,10.6,10.7,10.8,10.9,11.1,11.2,11.3,11.4,11.6,11.7,11.8,11.9],"title":null,"zindex":1}},"x2":{"field":"n"},"y":{"field":"d","type":"quantitative","axis":{"orient":"right","domain":false,"labels":false,"tickColor":"#000","tickSize":-2,"values":[5,10,15,25,30,35,45,50,55,65,70,75,85,90,95],"title":null,"zindex":1}},"y2":{"field":"e"}}},
{"data":{"name":"dash"},"mark":{"type":"rule","color":"#000","strokeWidth":1.5,"strokeDash":[5.5,2.5]},"encoding":{"y":{"field":"d","type":"quantitative","axis":null}}},
{"data":{"values":[{"t":"z=2.00","m":11.9,"d":9}]},"mark":{"type":"text","align":"right","fontSize":10.7,"color":"#222"},"encoding":{"x":{"field":"m","type":"quantitative","axis":null},"y":{"field":"d","type":"quantitative","axis":null},"text":{"field":"t"}}}
]},
{"width":166,"height":153.5,"resolve":{"axis":{"x":"independent","y":"independent"}},"layer":[
{"data":{"name":"cells"},"transform":[{"filter":"datum.z==3"}],"mark":{"type":"rect","strokeWidth":0.6},"encoding":{"x":{"field":"m","type":"quantitative","scale":{"domain":[9.5,12]},"axis":{"orient":"bottom","domain":false,"labels":true,"format":".1f","tickColor":"#000","tickSize":-4,"values":[9.5,10,10.5,11,11.5,12],"title":null,"zindex":1}},"x2":{"field":"n"},"y":{"field":"d","type":"quantitative","scale":{"domain":[0,100]},"axis":{"orient":"left","domain":false,"labels":true,"tickColor":"#000","tickSize":-4,"values":[0,20,40,60,80,100],"title":null,"zindex":1}},"y2":{"field":"e"},"color":{"field":"f","type":"quantitative","legend":null},"stroke":{"field":"f","type":"quantitative","legend":null}}},
{"data":{"name":"frame"},"mark":{"type":"rect","fill":null,"stroke":"#000","strokeWidth":1},"encoding":{"x":{"field":"m","type":"quantitative","axis":{"orient":"top","domain":false,"labels":false,"tickColor":"#000","tickSize":-4,"values":[9.5,10,10.5,11,11.5,12],"title":null,"zindex":1}},"x2":{"field":"n"},"y":{"field":"d","type":"quantitative","axis":{"orient":"right","domain":false,"labels":false,"tickColor":"#000","tickSize":-4,"values":[0,20,40,60,80,100],"title":null,"zindex":1}},"y2":{"field":"e"}}},
{"data":{"name":"frame"},"mark":{"type":"rect","fill":null},"encoding":{"x":{"field":"m","type":"quantitative","axis":{"orient":"bottom","domain":false,"labels":false,"tickColor":"#000","tickSize":-2,"values":[9.6,9.7,9.8,9.9,10.1,10.2,10.3,10.4,10.6,10.7,10.8,10.9,11.1,11.2,11.3,11.4,11.6,11.7,11.8,11.9],"title":null,"zindex":1}},"x2":{"field":"n"},"y":{"field":"d","type":"quantitative","axis":{"orient":"left","domain":false,"labels":false,"tickColor":"#000","tickSize":-2,"values":[5,10,15,25,30,35,45,50,55,65,70,75,85,90,95],"title":null,"zindex":1}},"y2":{"field":"e"}}},
{"data":{"name":"frame"},"mark":{"type":"rect","fill":null},"encoding":{"x":{"field":"m","type":"quantitative","axis":{"orient":"top","domain":false,"labels":false,"tickColor":"#000","tickSize":-2,"values":[9.6,9.7,9.8,9.9,10.1,10.2,10.3,10.4,10.6,10.7,10.8,10.9,11.1,11.2,11.3,11.4,11.6,11.7,11.8,11.9],"title":null,"zindex":1}},"x2":{"field":"n"},"y":{"field":"d","type":"quantitative","axis":{"orient":"right","domain":false,"labels":false,"tickColor":"#000","tickSize":-2,"values":[5,10,15,25,30,35,45,50,55,65,70,75,85,90,95],"title":null,"zindex":1}},"y2":{"field":"e"}}},
{"data":{"name":"dash"},"mark":{"type":"rule","color":"#000","strokeWidth":1.5,"strokeDash":[5.5,2.5]},"encoding":{"y":{"field":"d","type":"quantitative","axis":null}}},
{"data":{"values":[{"t":"z=3.00","m":11.9,"d":10}]},"mark":{"type":"text","align":"right","fontSize":10.7,"color":"#222"},"encoding":{"x":{"field":"m","type":"quantitative","axis":null},"y":{"field":"d","type":"quantitative","axis":null},"text":{"field":"t"}}}
]},
{"width":166,"height":153.5,"resolve":{"axis":{"x":"independent","y":"independent"}},"layer":[
{"data":{"name":"cells"},"transform":[{"filter":"datum.z==3.9"}],"mark":{"type":"rect","strokeWidth":0.6},"encoding":{"x":{"field":"m","type":"quantitative","scale":{"domain":[9.5,12]},"axis":{"orient":"bottom","domain":false,"labels":true,"format":".1f","tickColor":"#000","tickSize":-4,"values":[10,10.5,11,11.5,12],"title":"log₁₀(M⁎/M☉)","titleX":170,"titleY":20,"zindex":1}},"x2":{"field":"n"},"y":{"field":"d","type":"quantitative","scale":{"domain":[0,100]},"axis":{"orient":"left","domain":false,"labels":false,"tickColor":"#000","tickSize":-4,"values":[0,20,40,60,80,100],"title":null,"zindex":1}},"y2":{"field":"e"},"color":{"field":"f","type":"quantitative","legend":null},"stroke":{"field":"f","type":"quantitative","legend":null}}},
{"data":{"name":"frame"},"mark":{"type":"rect","fill":null,"stroke":"#000","strokeWidth":1},"encoding":{"x":{"field":"m","type":"quantitative","axis":{"orient":"top","domain":false,"labels":false,"tickColor":"#000","tickSize":-4,"values":[9.5,10,10.5,11,11.5,12],"title":null,"zindex":1}},"x2":{"field":"n"},"y":{"field":"d","type":"quantitative","axis":{"orient":"right","domain":false,"labels":false,"tickColor":"#000","tickSize":-4,"values":[0,20,40,60,80,100],"title":null,"zindex":1}},"y2":{"field":"e"}}},
{"data":{"name":"frame"},"mark":{"type":"rect","fill":null},"encoding":{"x":{"field":"m","type":"quantitative","axis":{"orient":"bottom","domain":false,"labels":false,"tickColor":"#000","tickSize":-2,"values":[9.6,9.7,9.8,9.9,10.1,10.2,10.3,10.4,10.6,10.7,10.8,10.9,11.1,11.2,11.3,11.4,11.6,11.7,11.8,11.9],"title":null,"zindex":1}},"x2":{"field":"n"},"y":{"field":"d","type":"quantitative","axis":{"orient":"left","domain":false,"labels":false,"tickColor":"#000","tickSize":-2,"values":[5,10,15,25,30,35,45,50,55,65,70,75,85,90,95],"title":null,"zindex":1}},"y2":{"field":"e"}}},
{"data":{"name":"frame"},"mark":{"type":"rect","fill":null},"encoding":{"x":{"field":"m","type":"quantitative","axis":{"orient":"top","domain":false,"labels":false,"tickColor":"#000","tickSize":-2,"values":[9.6,9.7,9.8,9.9,10.1,10.2,10.3,10.4,10.6,10.7,10.8,10.9,11.1,11.2,11.3,11.4,11.6,11.7,11.8,11.9],"title":null,"zindex":1}},"x2":{"field":"n"},"y":{"field":"d","type":"quantitative","axis":{"orient":"right","domain":false,"labels":false,"tickColor":"#000","tickSize":-2,"values":[5,10,15,25,30,35,45,50,55,65,70,75,85,90,95],"title":null,"zindex":1}},"y2":{"field":"e"}}},
{"data":{"name":"dash"},"mark":{"type":"rule","color":"#000","strokeWidth":1.5,"strokeDash":[5.5,2.5]},"encoding":{"y":{"field":"d","type":"quantitative","axis":null}}},
{"data":{"values":[{"t":"z=3.90","m":11.9,"d":10}]},"mark":{"type":"text","align":"right","fontSize":10.7,"color":"#222"},"encoding":{"x":{"field":"m","type":"quantitative","axis":null},"y":{"field":"d","type":"quantitative","axis":null},"text":{"field":"t"}}}
]},
{"width":166,"height":153.5,"resolve":{"axis":{"x":"independent","y":"independent"}},"layer":[
{"data":{"name":"cells"},"transform":[{"filter":"datum.z==5"}],"mark":{"type":"rect","strokeWidth":0.6},"encoding":{"x":{"field":"m","type":"quantitative","scale":{"domain":[9.5,12]},"axis":{"orient":"bottom","domain":false,"labels":true,"format":".1f","tickColor":"#000","tickSize":-4,"values":[10,10.5,11,11.5,12],"title":null,"zindex":1}},"x2":{"field":"n"},"y":{"field":"d","type":"quantitative","scale":{"domain":[0,100]},"axis":{"orient":"left","domain":false,"labels":false,"tickColor":"#000","tickSize":-4,"values":[0,20,40,60,80,100],"title":null,"zindex":1}},"y2":{"field":"e"},"color":{"field":"f","type":"quantitative","legend":null},"stroke":{"field":"f","type":"quantitative","legend":null}}},
{"data":{"name":"frame"},"mark":{"type":"rect","fill":null,"stroke":"#000","strokeWidth":1},"encoding":{"x":{"field":"m","type":"quantitative","axis":{"orient":"top","domain":false,"labels":false,"tickColor":"#000","tickSize":-4,"values":[9.5,10,10.5,11,11.5,12],"title":null,"zindex":1}},"x2":{"field":"n"},"y":{"field":"d","type":"quantitative","axis":{"orient":"right","domain":false,"labels":false,"tickColor":"#000","tickSize":-4,"values":[0,20,40,60,80,100],"title":null,"zindex":1}},"y2":{"field":"e"}}},
{"data":{"name":"frame"},"mark":{"type":"rect","fill":null},"encoding":{"x":{"field":"m","type":"quantitative","axis":{"orient":"bottom","domain":false,"labels":false,"tickColor":"#000","tickSize":-2,"values":[9.6,9.7,9.8,9.9,10.1,10.2,10.3,10.4,10.6,10.7,10.8,10.9,11.1,11.2,11.3,11.4,11.6,11.7,11.8,11.9],"title":null,"zindex":1}},"x2":{"field":"n"},"y":{"field":"d","type":"quantitative","axis":{"orient":"left","domain":false,"labels":false,"tickColor":"#000","tickSize":-2,"values":[5,10,15,25,30,35,45,50,55,65,70,75,85,90,95],"title":null,"zindex":1}},"y2":{"field":"e"}}},
{"data":{"name":"frame"},"mark":{"type":"rect","fill":null},"encoding":{"x":{"field":"m","type":"quantitative","axis":{"orient":"top","domain":false,"labels":false,"tickColor":"#000","tickSize":-2,"values":[9.6,9.7,9.8,9.9,10.1,10.2,10.3,10.4,10.6,10.7,10.8,10.9,11.1,11.2,11.3,11.4,11.6,11.7,11.8,11.9],"title":null,"zindex":1}},"x2":{"field":"n"},"y":{"field":"d","type":"quantitative","axis":{"orient":"right","domain":false,"labels":false,"tickColor":"#000","tickSize":-2,"values":[5,10,15,25,30,35,45,50,55,65,70,75,85,90,95],"title":null,"zindex":1}},"y2":{"field":"e"}}},
{"data":{"name":"dash"},"mark":{"type":"rule","color":"#000","strokeWidth":1.5,"strokeDash":[5.5,2.5]},"encoding":{"y":{"field":"d","type":"quantitative","axis":null}}},
{"data":{"values":[{"t":"z=5.00","m":11.9,"d":10}]},"mark":{"type":"text","align":"right","fontSize":10.7,"color":"#222"},"encoding":{"x":{"field":"m","type":"quantitative","axis":null},"y":{"field":"d","type":"quantitative","axis":null},"text":{"field":"t"}}},
{"data":{"values":[{"t":"High","m":11.93,"d":96}]},"mark":{"type":"text","align":"right","fontSize":10.7,"color":"#f56a36"},"encoding":{"x":{"field":"m","type":"quantitative","axis":null},"y":{"field":"d","type":"quantitative","axis":null},"text":{"field":"t"}}},
{"data":{"values":[{"t":"Intermediate","m":11.93,"d":85.7}]},"mark":{"type":"text","align":"right","fontSize":10.7,"color":"#2a7fe8"},"encoding":{"x":{"field":"m","type":"quantitative","axis":null},"y":{"field":"d","type":"quantitative","axis":null},"text":{"field":"t"}}},
{"data":{"values":[{"t":"Low","m":11.93,"d":37}]},"mark":{"type":"text","align":"right","fontSize":10.7,"color":"#6aa000"},"encoding":{"x":{"field":"m","type":"quantitative","axis":null},"y":{"field":"d","type":"quantitative","axis":null},"text":{"field":"t"}}}
]},
{"width":45,"height":153.5,"resolve":{"axis":{"y":"independent"}},"layer":[
{"data":{"name":"bar"},"mark":{"type":"rect","strokeWidth":0.6},"encoding":{"x":{"datum":0,"type":"quantitative","scale":{"domain":[-4,1]},"axis":null},"x2":{"datum":1},"y":{"field":"v","type":"quantitative","scale":{"domain":[0,1.1718]},"axis":{"orient":"left","offset":-36,"domain":false,"labels":true,"ticks":false,"format":".1f","values":[0,0.2,0.4,0.6,0.8,1],"labelFlush":23,"title":null,"zindex":1}},"y2":{"field":"v2"},"color":{"field":"f","type":"quantitative","legend":null},"stroke":{"field":"f","type":"quantitative","legend":null}}},
{"data":{"values":[{"v":0,"v2":1}]},"mark":{"type":"rect","fill":null,"stroke":"#000","strokeWidth":1},"encoding":{"x":{"datum":0,"type":"quantitative","axis":null},"x2":{"datum":1},"y":{"field":"v","type":"quantitative","axis":{"orient":"right","domain":false,"labels":false,"ticks":false,"title":"Fraction of late-type progenitors","titleX":10,"titleY":88,"titleAngle":270,"titleFontSize":9.5,"zindex":1}},"y2":{"field":"v2"}}}
]}
]}
